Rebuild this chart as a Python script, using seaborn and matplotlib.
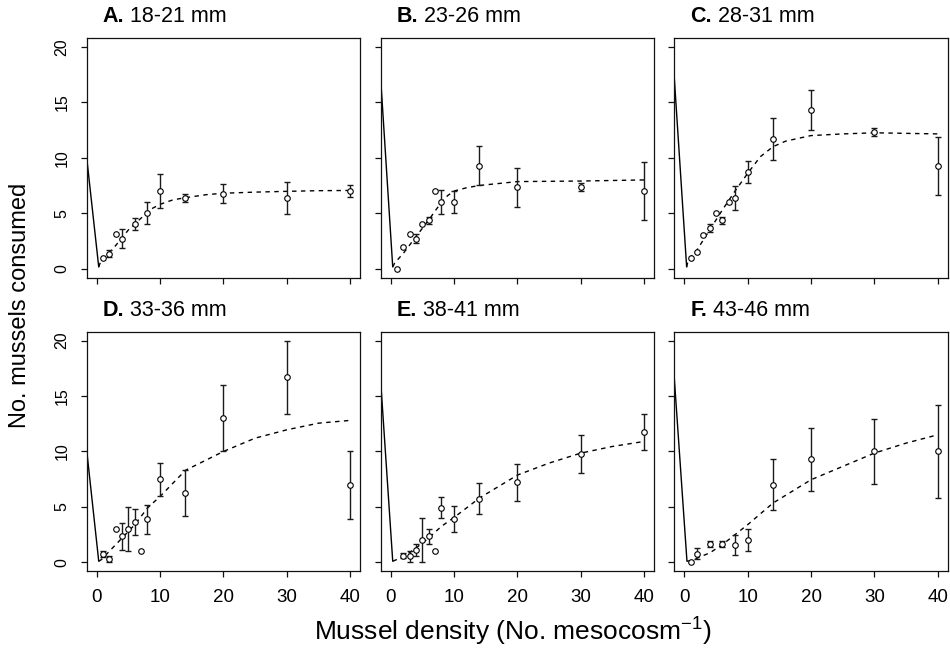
import numpy as np
import pandas as pd
import matplotlib
matplotlib.use("Agg")
import matplotlib.pyplot as plt
import seaborn as sns

# ---------------- data ----------------
panel_letters = ["A.", "B.", "C.", "D.", "E.", "F."]
panel_sizes = ["18-21 mm", "23-26 mm", "28-31 mm", "33-36 mm", "38-41 mm", "43-46 mm"]

densA = [1, 2, 3, 4, 6, 8, 10, 14, 20, 30, 40]
meanA = [1.0, 1.35, 3.1, 2.7, 4.0, 5.0, 7.0, 6.35, 6.75, 6.35, 7.0]
seA = [np.nan, 0.3, np.nan, 0.87, 0.55, 1.0, 1.5, 0.35, 0.87, 1.46, 0.57]

densB = [1, 2, 3, 4, 5, 6, 7, 8, 10, 14, 20, 30, 40]
meanB = [0.0, 1.95, 3.1, 2.7, 4.0, 4.35, 7.0, 6.0, 6.0, 9.3, 7.35, 7.35, 7.0]
seB = [np.nan, np.nan, np.nan, 0.38, np.nan, 0.33, np.nan, 1.1, 1.0, 1.8, 1.77, 0.38, 2.65]

densC = [1, 2, 3, 4, 5, 6, 7, 8, 10, 14, 20, 30, 40]
meanC = [1.0, 1.5, 3.05, 3.65, 5.0, 4.35, 6.0, 6.35, 8.7, 11.7, 14.3, 12.3, 9.25]
seC = [np.nan, np.nan, np.nan, 0.37, np.nan, 0.33, np.nan, 1.1, 0.98, 1.9, 1.8, 0.35, 2.65]

densD = [1, 2, 3, 4, 5, 6, 7, 8, 10, 14, 20, 30, 40]
meanD = [0.75, 0.3, 3.0, 2.35, 3.0, 3.65, 1.05, 3.9, 7.5, 6.25, 13.0, 16.7, 7.0]
seD = [0.25, 0.25, np.nan, 1.2, 2.0, 1.2, np.nan, 1.3, 1.5, 2.1, 3.0, 3.3, 3.05]

densE = [2, 3, 4, 5, 6, 7, 8, 10, 14, 20, 30, 40]
meanE = [0.6, 0.54, 1.14, 1.98, 2.34, 1.03, 4.93, 3.9, 5.74, 7.2, 9.77, 11.75]
seE = [0.25, 0.5, 0.53, 1.98, 0.66, np.nan, 0.95, 1.2, 1.42, 1.67, 1.72, 1.6]

densF = [1, 2, 4, 6, 8, 10, 14, 20, 30, 40]
meanF = [0.0, 0.78, 1.65, 1.65, 1.6, 2.0, 7.0, 9.3, 10.0, 10.0]
seF = [np.nan, 0.5, 0.3, 0.3, 0.9, 1.0, 2.3, 2.85, 2.97, 4.16]

# fitted curves
fitxA = [0.3, 0.7, 2, 3, 4, 5, 7, 8.85, 10, 12, 14, 17.3, 20, 25, 30, 35, 40]
fityA = [0.15, 0.8, 1.45, 2.1, 2.8, 3.5, 4.56, 5.46, 5.8, 6.2, 6.4, 6.67, 6.8, 6.9, 6.97, 7.03, 7.05]
fitxB = [0.3, 0.6, 2, 4, 6, 8, 9, 10, 12, 14, 20, 30, 40]
fityB = [0.15, 0.5, 1.4, 2.9, 4.4, 6.0, 6.6, 7.0, 7.3, 7.5, 7.85, 7.9, 8.0]
fitxC = [0.35, 0.6, 2, 4, 6, 8, 10, 12, 14, 16, 20, 25, 30, 40]
fityC = [0.15, 0.8, 1.7, 3.5, 5.3, 7.0, 8.6, 10.1, 11.0, 11.5, 12.0, 12.15, 12.25, 12.15]
fitxD = [0.3, 0.7, 4, 6, 8, 10, 14, 20, 25, 30, 35, 40]
fityD = [0.1, 0.24, 2.2, 3.4, 4.9, 5.95, 8.3, 10.0, 11.2, 11.95, 12.55, 12.8]
fitxE = [0.3, 2, 4, 6, 8, 10, 14, 20, 25, 30, 35, 40]
fityE = [0.1, 0.5, 1.3, 2.2, 3.25, 4.05, 5.8, 7.87, 8.95, 9.85, 10.45, 10.9]
fitxF = [0.4, 1, 4, 6, 8, 10, 14, 20, 25, 30, 35, 40]
fityF = [0.1, 0.15, 0.85, 1.6, 2.5, 3.4, 5.35, 7.45, 8.65, 9.85, 10.75, 11.5]

# solid segment start value at the left edge of each panel
solid_start = [10.0, 17.1, 17.2, 10.1, 16.3, 16.6]

x_ticks = [0, 10, 20, 30, 40]
y_ticks = [0, 5, 10, 15, 20]

dens_all = [densA, densB, densC, densD, densE, densF]
mean_all = [meanA, meanB, meanC, meanD, meanE, meanF]
se_all = [seA, seB, seC, seD, seE, seF]
fitx_all = [fitxA, fitxB, fitxC, fitxD, fitxE, fitxF]
fity_all = [fityA, fityB, fityC, fityD, fityE, fityF]

# ---------------- style ----------------
sns.set_style("ticks")
plt.rcParams['font.family'] = ['Liberation Sans', 'DejaVu Sans']
plt.rcParams['mathtext.fontset'] = 'custom'
plt.rcParams['mathtext.rm'] = 'Liberation Sans'
plt.rcParams['mathtext.default'] = 'regular'
for k in ['text.color', 'axes.labelcolor', 'xtick.color', 'ytick.color', 'axes.edgecolor']:
    plt.rcParams[k] = 'black'

W, H = 950, 653
fig = plt.figure(figsize=(W / 100, H / 100), dpi=100)
fig.patch.set_facecolor('white')

col_left = [86.7, 380.7, 674.3]
row_top = [38.0, 331.7]
pw, ph = 273.5, 239.5

XMIN, XMAX = -1.6, 41.6
for i in range(6):
    r, c = divmod(i, 3)
    ax = fig.add_axes([col_left[c] / W, 1 - (row_top[r] + ph) / H, pw / W, ph / H])
    ax.set_facecolor('white')

    fx = fitx_all[i]
    fy = fity_all[i]
    # solid segment
    seg = pd.DataFrame({"x": [XMIN, fx[0]], "y": [solid_start[i], fy[0]]})
    sns.lineplot(data=seg, x="x", y="y", color='black', lw=1.0, ax=ax,
                 estimator=None, sort=False)
    # dashed fitted curve
    cur = pd.DataFrame({"x": fx, "y": fy})
    sns.lineplot(data=cur, x="x", y="y", color='black', lw=1.0, ax=ax,
                 estimator=None, sort=False)
    ax.lines[-1].set_dashes((3.2, 3.2))

    d = np.array(dens_all[i], float)
    m = np.array(mean_all[i], float)
    s = np.array(se_all[i], float)
    ok = ~np.isnan(s)
    ax.errorbar(d[ok], m[ok], yerr=s[ok], fmt='none', ecolor='#1a1a1a',
                elinewidth=1.0, capsize=2.2, capthick=1.0, zorder=2)
    pts = pd.DataFrame({"x": d, "y": m})
    sns.scatterplot(data=pts, x="x", y="y", ax=ax, marker='o', s=16,
                    color='white', edgecolor='black', linewidth=0.8, zorder=3)

    ax.set_xlim(XMIN, XMAX)
    ax.set_ylim(-0.8, 20.8)
    ax.set_xticks(x_ticks)
    ax.set_yticks(y_ticks)
    ax.set_xlabel("")
    ax.set_ylabel("")
    for sp in ax.spines.values():
        sp.set_visible(True)
        sp.set_color('#111111')
        sp.set_linewidth(0.9)
    ax.tick_params(direction='out', length=4.5, width=0.9, color='#111111', pad=8)
    ax.tick_params(axis='x', labelsize=13.5)
    ax.tick_params(axis='y', labelsize=11.5)
    if c != 0:
        ax.set_yticklabels([])
    else:
        ax.tick_params(axis='y', labelrotation=90)
        for lab in ax.get_yticklabels():
            lab.set_va('center')
            lab.set_ha('right')
    if r != 1:
        ax.set_xticklabels([])

    t1 = ax.text(0.058, 1.045, panel_letters[i], transform=ax.transAxes,
                 fontsize=15.5, fontweight='bold', ha='left', va='bottom')
    ax.annotate(" " + panel_sizes[i], xy=(1, 0), xycoords=t1, fontsize=15.5,
                ha='left', va='bottom')

fig.text(20 / W, 1 - 305 / H, "No. mussels consumed", rotation=90,
         ha='center', va='center', fontsize=17)
fig.text(513 / W, 1 - 632 / H, r"Mussel density (No. mesocosm$^{-1}$)",
         ha='center', va='center', fontsize=19)

fig.savefig("out.png", dpi=100, facecolor='white')
